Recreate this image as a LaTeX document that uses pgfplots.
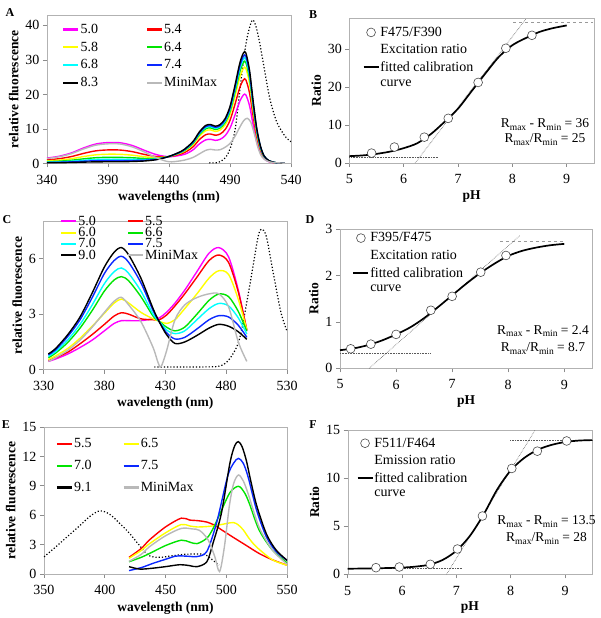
\documentclass[border=0pt]{standalone}
\usepackage{fontspec}
\setmainfont{Liberation Serif}
\usepackage{pgfplots}
\pgfplotsset{compat=1.18}

\definecolor{cMag}{HTML}{FF00FF}
\definecolor{cRed}{HTML}{FF0000}
\definecolor{cYel}{HTML}{FFFF00}
\definecolor{cGrn}{HTML}{00E400}
\definecolor{cCya}{HTML}{00FFFF}
\definecolor{cBlu}{HTML}{0A28FF}
\definecolor{cMM}{HTML}{B9B9B9}

\tikzset{rtext/.style={font=\fontsize{13.5}{13.5}\selectfont}}
\pgfplotsset{
  panel/.style={
    scale only axis, anchor=south west,
    axis line style={draw=black!30},
    every tick/.style={black!45, line width=0.6pt},
    tick align=outside, tick pos=left, major tick length=4pt,
    ticklabel style={font=\fontsize{14}{14}\selectfont},
    xticklabel style={yshift=-4pt},
    label style={font=\bfseries\fontsize{13.5}{14}\selectfont},
    /pgf/number format/assume math mode=true,
    legend style={draw=none, fill=none, font=\fontsize{14}{14}\selectfont,
      inner sep=0pt, nodes={inner sep=1pt}},
    legend cell align=left,
    legend image code/.code={\draw[##1] (0pt,0pt) -- (15pt,0pt);},
  },
  ratio/.style={panel, clip=false, xmin=5, xmax=9.5, xtick={5,6,7,8,9},
    xlabel={pH}, ylabel={Ratio}, legend style={row sep=4.5pt}},
  spec/.style={line width=1.4pt, smooth, forget plot},
  lg/.style={line width=2.2pt},
  ref/.style={black, dotted, line width=1.2pt, smooth, forget plot},
  fitc/.style={line width=1.7pt, black, smooth},
  pts/.style={only marks, mark=*, mark size=4.4pt,
    mark options={draw=black!70, fill=white, line width=0.6pt},
    legend image code/.code={\draw[mark repeat=2,mark phase=2,##1] plot coordinates {(0pt,0pt)(7.5pt,0pt)(15pt,0pt)};}},
  guide/.style={black!65, densely dotted, line width=0.6pt, forget plot},
  guidedash/.style={black!40, dashed, line width=0.6pt, forget plot},
}
\newcommand{\sub}[1]{\raisebox{-2.5pt}{\fontsize{9.5}{9.5}\selectfont #1}}

\begin{document}
\begin{tikzpicture}
\useasboundingbox (0,0) rectangle (600pt,618pt);

% ---------------- A ----------------
\begin{axis}[panel, at={(47pt,454.5pt)}, width=244pt, height=148.5pt,
  xmin=340, xmax=540, ymin=0, ymax=43,
  xtick={340,390,440,490,540}, ytick={0,10,20,30,40},
  xlabel={wavelengths (nm)}, ylabel={relative fluorescence},
  legend columns=2,
  legend style={at={(axis description cs:0.062,0.947)}, anchor=north west, row sep=5pt,
    /tikz/every even column/.append style={column sep=47pt}}]
\addlegendimage{lg, cMag}\addlegendentry{5.0}
\addlegendimage{lg, cRed}\addlegendentry{5.4}
\addlegendimage{lg, cYel}\addlegendentry{5.8}
\addlegendimage{lg, cGrn}\addlegendentry{6.4}
\addlegendimage{lg, cCya}\addlegendentry{6.8}
\addlegendimage{lg, cBlu}\addlegendentry{7.4}
\addlegendimage{lg, black}\addlegendentry{8.3}
\addlegendimage{lg, cMM}\addlegendentry{MiniMax}
\addplot[ref] coordinates {(473,0.2) (481,0.4) (488,2.6) (494,9.4) (499,24) (503.5,35.5) (508,41.4) (511,40) (514,35.5) (517,29.7) (522.5,19) (528,12.3) (533,9) (536.5,7.3) (540,6.3)};
\addplot[spec, cMag] coordinates {(340,1.56) (350,2.10) (360,3.06) (370,4.50) (380,5.64) (390,6.06) (400,6.00) (410,5.20) (420,3.79) (430,2.54) (440,1.96) (450,2.41) (455,2.98) (460,4.03) (465,5.70) (470,6.82) (474,7.01) (478,6.70) (482,7.01) (486,8.06) (490,10.23) (494,13.95) (498,17.98) (501,19.84) (503,19.84) (506,16.74) (509,11.16) (512,6.20) (515,3.10) (518,1.36) (522,0.50) (528,0.12) (535,0.06)};
\addplot[spec, cRed] coordinates {(340,1.04) (350,1.39) (360,2.01) (370,2.93) (380,3.66) (390,3.93) (400,3.89) (410,3.42) (420,2.61) (430,1.99) (440,1.97) (450,2.80) (455,3.63) (460,4.92) (465,6.96) (470,8.33) (474,8.55) (478,8.18) (482,8.55) (486,9.84) (490,12.49) (494,17.03) (498,21.95) (501,24.22) (503,24.22) (506,20.44) (509,13.63) (512,7.57) (515,3.79) (518,1.67) (522,0.61) (528,0.15) (535,0.08)};
\addplot[spec, cYel] coordinates {(340,0.74) (350,0.97) (360,1.39) (370,2.01) (380,2.51) (390,2.69) (400,2.66) (410,2.40) (420,1.94) (430,1.69) (440,2.03) (450,3.11) (455,4.13) (460,5.59) (465,7.91) (470,9.46) (474,9.72) (478,9.29) (482,9.72) (486,11.18) (490,14.19) (494,19.35) (498,24.94) (501,27.52) (503,27.52) (506,23.22) (509,15.48) (512,8.60) (515,4.30) (518,1.89) (522,0.69) (528,0.17) (535,0.09)};
\addplot[spec, cGrn] coordinates {(340,0.52) (350,0.67) (360,0.94) (370,1.35) (380,1.67) (390,1.79) (400,1.77) (410,1.66) (420,1.45) (430,1.45) (440,2.03) (450,3.27) (455,4.38) (460,5.93) (465,8.40) (470,10.04) (474,10.32) (478,9.86) (482,10.32) (486,11.87) (490,15.06) (494,20.54) (498,26.48) (501,29.22) (503,29.22) (506,24.65) (509,16.43) (512,9.13) (515,4.57) (518,2.01) (522,0.73) (528,0.18) (535,0.09)};
\addplot[spec, cCya] coordinates {(340,0.38) (350,0.48) (360,0.67) (370,0.94) (380,1.16) (390,1.24) (400,1.23) (410,1.21) (420,1.14) (430,1.32) (440,2.03) (450,3.36) (455,4.54) (460,6.14) (465,8.69) (470,10.40) (474,10.68) (478,10.21) (482,10.68) (486,12.29) (490,15.59) (494,21.26) (498,27.41) (501,30.24) (503,30.24) (506,25.52) (509,17.01) (512,9.45) (515,4.73) (518,2.08) (522,0.76) (528,0.19) (535,0.09)};
\addplot[spec, cBlu] coordinates {(340,0.29) (350,0.36) (360,0.48) (370,0.66) (380,0.80) (390,0.85) (400,0.84) (410,0.87) (420,0.93) (430,1.21) (440,2.03) (450,3.43) (455,4.66) (460,6.31) (465,8.92) (470,10.67) (474,10.96) (478,10.48) (482,10.96) (486,12.61) (490,16.01) (494,21.83) (498,28.13) (501,31.04) (503,31.04) (506,26.19) (509,17.46) (512,9.70) (515,4.85) (518,2.13) (522,0.78) (528,0.19) (535,0.10)};
\addplot[spec, black] coordinates {(340,0.20) (350,0.24) (360,0.30) (370,0.40) (380,0.47) (390,0.50) (400,0.50) (410,0.59) (420,0.73) (430,1.13) (440,2.05) (450,3.52) (455,4.80) (460,6.50) (465,9.20) (470,11.00) (474,11.30) (478,10.80) (482,11.30) (486,13.00) (490,16.50) (494,22.50) (498,29.00) (501,32.00) (503,32.00) (506,27.00) (509,18.00) (512,10.00) (515,5.00) (518,2.20) (522,0.80) (528,0.20) (535,0.10)};
\addplot[spec, cMM] coordinates {(340,1.43) (350,1.94) (360,2.85) (370,4.22) (380,5.30) (390,5.70) (400,5.64) (410,4.79) (420,3.31) (430,1.60) (440,0.50) (450,0.80) (455,1.20) (460,1.80) (465,2.80) (470,3.80) (474,4.10) (478,3.90) (482,4.00) (486,4.70) (490,5.80) (494,7.80) (498,10.50) (501,12.30) (504,13.10) (507,12.00) (510,8.50) (513,4.50) (516,2.00) (520,0.80) (525,0.30) (535,0.10)};
\end{axis}

% ---------------- B ----------------
\begin{axis}[ratio, at={(349.3pt,455pt)}, width=244.6pt, height=144.4pt,
  ymin=0, ymax=38, ytick={0,10,20,30},
  legend style={at={(axis description cs:0.054,0.95)}, anchor=north west}]
\addplot[guide] coordinates {(5,1.6) (6.62,1.6)};
\addplot[guidedash] coordinates {(8.02,37.1) (9.49,37.1)};
\addplot[guide] coordinates {(6.21,0) (8.25,37.9)};
\addplot[pts] coordinates {(5.41,2.6) (5.83,4.2) (6.38,6.8) (6.82,11.75) (7.37,21.2) (7.88,30.2) (8.36,33.6)};
\addlegendentry{F475/F390}
\addlegendimage{empty legend}
\addlegendentry{Excitation ratio}
\addplot[fitc] coordinates {(5.0,1.8) (5.25,2.0) (5.5,2.4) (5.75,3.0) (6.0,3.9) (6.25,5.2) (6.5,7.6) (6.75,10.8) (7.0,14.3) (7.25,18.9) (7.5,23.5) (7.75,27.9) (8.0,31.0) (8.25,32.9) (8.5,34.5) (8.75,35.5) (9.0,36.2)};
\addlegendentry{fitted calibration}
\addlegendimage{empty legend}
\addlegendentry{curve}
\node[rtext] at (axis cs:8.6,10.1) {R\sub{max} - R\sub{min} = 36};
\node[rtext] at (axis cs:8.6,6.1) {R\sub{max}/R\sub{min} = 25};
\end{axis}

% ---------------- C ----------------
\begin{axis}[panel, at={(43.5pt,248.3pt)}, width=243.5pt, height=148pt,
  xmin=330, xmax=530, ymin=0, ymax=8,
  xtick={330,380,430,480,530}, ytick={0,3,6},
  xlabel={wavelength (nm)}, ylabel={relative fluorescence},
  legend columns=2,
  legend style={at={(axis description cs:0.068,1.047)}, anchor=north west, row sep=-1.5pt,
    /tikz/every even column/.append style={column sep=30pt}}]
\addlegendimage{lg, cMag}\addlegendentry{5.0}
\addlegendimage{lg, cRed}\addlegendentry{5.5}
\addlegendimage{lg, cYel}\addlegendentry{6.0}
\addlegendimage{lg, cGrn}\addlegendentry{6.6}
\addlegendimage{lg, cCya}\addlegendentry{7.0}
\addlegendimage{lg, cBlu}\addlegendentry{7.5}
\addlegendimage{lg, black}\addlegendentry{9.0}
\addlegendimage{lg, cMM}\addlegendentry{MiniMax}
\addplot[ref] coordinates {(421,0.15) (440,0.15) (460,0.15) (475,0.2) (483,0.6) (491,1.66) (499,4.4) (506,7.1) (509,7.6) (513,7.2) (518.5,5.3) (525,3.1) (530,2.1)};
\addplot[spec, cMag] coordinates {(334,0.45) (340,0.58) (350,0.85) (360,1.2) (370,1.6) (380,2.1) (388,2.5) (394,2.65) (400,2.65) (410,2.65) (420,2.75) (425,2.8) (431,3.1) (438,3.6) (446,4.3) (456,5.3) (466,6.3) (474,6.6) (482,6.1) (490,4.3) (497,2.1)};
\addplot[spec, cRed] coordinates {(334,0.5) (340,0.65) (350,0.95) (360,1.4) (370,1.9) (380,2.45) (388,2.9) (394,3.08) (400,3.0) (410,2.75) (420,2.7) (425,2.7) (431,2.95) (438,3.45) (446,4.1) (456,5.0) (466,5.9) (474,6.2) (482,5.8) (490,4.2) (497,2.15)};
\addplot[spec, cYel] coordinates {(334,0.55) (340,0.75) (350,1.15) (360,1.7) (370,2.35) (380,3.05) (388,3.6) (394,3.82) (400,3.6) (410,3.1) (420,2.75) (425,2.62) (431,2.5) (438,2.7) (446,3.3) (456,4.1) (466,4.95) (474,5.35) (482,5.15) (490,3.8) (497,2.15)};
\addplot[spec, cGrn] coordinates {(334,0.65) (340,0.9) (350,1.48) (360,2.25) (370,3.2) (380,4.25) (388,4.85) (394,5.03) (400,4.8) (410,3.95) (420,2.9) (425,2.62) (431,2.3) (438,2.1) (446,2.3) (456,3.0) (466,3.75) (474,4.09) (482,3.95) (490,3.15) (497,2.08)};
\addplot[spec, cCya] coordinates {(334,0.72) (340,0.98) (350,1.62) (360,2.45) (370,3.5) (380,4.65) (388,5.3) (394,5.5) (400,5.2) (410,4.25) (420,3.0) (425,2.62) (431,2.15) (438,1.95) (446,2.1) (456,2.7) (466,3.3) (474,3.58) (482,3.45) (490,2.8) (497,1.93)};
\addplot[spec, cBlu] coordinates {(334,0.8) (340,1.08) (350,1.8) (360,2.7) (370,3.9) (380,5.2) (388,5.9) (394,6.13) (400,5.8) (410,4.7) (420,3.2) (425,2.6) (431,2.0) (438,1.66) (446,1.75) (456,2.2) (466,2.7) (474,2.92) (482,2.85) (490,2.4) (497,1.75)};
\addplot[spec, black] coordinates {(334,0.85) (340,1.15) (350,1.9) (360,2.85) (370,4.15) (380,5.55) (388,6.35) (394,6.6) (400,6.2) (410,4.95) (420,3.3) (425,2.6) (431,1.9) (438,1.42) (446,1.5) (456,1.85) (466,2.25) (474,2.45) (482,2.35) (490,2.05) (497,1.64)};
\addplot[spec, cMM] coordinates {(334,0.45) (340,0.65) (350,1.05) (360,1.6) (370,2.3) (380,3.1) (388,3.7) (394,3.91) (400,3.5) (410,2.6) (420,1.2) (424,0.4) (426.5,0.16) (431,1.0) (438,2.7) (446,3.5) (456,3.9) (466,4.1) (474,4.1) (482,3.4) (490,1.5) (497,0.45)};
\end{axis}

% ---------------- D ----------------
\begin{axis}[ratio, at={(340pt,249.7pt)}, width=252.3pt, height=139.3pt,
  ymin=0, ymax=3, ytick={0,1,2,3},
  legend style={at={(axis description cs:0.049,0.982)}, anchor=north west}]
\addplot[guide] coordinates {(5,0.33) (6.6,0.33)};
\addplot[guidedash] coordinates {(7.85,2.74) (9.0,2.74)};
\addplot[guide] coordinates {(5.52,0) (8.21,2.86)};
\addplot[pts] coordinates {(5.19,0.42) (5.55,0.52) (6.0,0.73) (6.62,1.25) (7.0,1.55) (7.51,2.07) (7.96,2.43)};
\addlegendentry{F395/F475}
\addlegendimage{empty legend}
\addlegendentry{Excitation ratio}
\addplot[fitc] coordinates {(5.0,0.39) (5.25,0.43) (5.5,0.5) (5.75,0.6) (6.0,0.73) (6.25,0.88) (6.5,1.08) (6.75,1.32) (7.0,1.57) (7.25,1.82) (7.5,2.05) (7.75,2.25) (8.0,2.42) (8.25,2.53) (8.5,2.6) (8.75,2.65) (9.0,2.68)};
\addlegendentry{fitted calibration}
\addlegendimage{empty legend}
\addlegendentry{curve}
\node[rtext] at (axis cs:8.62,0.80) {R\sub{max} - R\sub{min} = 2.4};
\node[rtext] at (axis cs:8.62,0.43) {R\sub{max}/R\sub{min} = 8.7};
\end{axis}

% ---------------- E ----------------
\begin{axis}[panel, at={(44pt,44pt)}, width=243pt, height=147pt,
  xmin=350, xmax=550, ymin=0, ymax=15,
  xtick={350,400,450,500,550}, ytick={0,3,6,9,12,15},
  xlabel={wavelength (nm)}, ylabel={relative fluorescence},
  legend columns=2,
  legend style={at={(axis description cs:0.048,0.93)}, anchor=north west, row sep=9pt,
    /tikz/every even column/.append style={column sep=30pt}}]
\addlegendimage{lg, cRed}\addlegendentry{5.5}
\addlegendimage{lg, cYel}\addlegendentry{6.5}
\addlegendimage{lg, cGrn}\addlegendentry{7.0}
\addlegendimage{lg, cBlu}\addlegendentry{7.5}
\addlegendimage{lg, black}\addlegendentry{9.1}
\addlegendimage{lg, cMM}\addlegendentry{MiniMax}
\addplot[ref] coordinates {(350,1.75) (360,2.8) (370,3.9) (380,5.0) (388,5.9) (396,6.45) (404,6.1) (412,5.2) (420,4.2) (428,3.0) (436,1.9) (445,1.7) (455,1.85) (465,2.0) (475,2.05) (483,1.95) (490,1.3) (494,0.9)};
\addplot[spec, cRed] coordinates {(420,1.7) (430,2.6) (437,3.5) (450,4.8) (463,5.7) (470,5.5) (476,5.45) (484,5.3) (490,5.0) (495,4.6) (505,3.8) (516,2.95) (527,2.1) (538,1.45) (550,0.9)};
\addplot[spec, cYel] coordinates {(420,1.6) (430,2.4) (437,3.1) (450,4.2) (463,5.05) (470,4.9) (476,4.8) (485,4.85) (494,5.0) (500,5.15) (506,5.25) (510,5.0) (514,4.5) (519,3.6) (525,2.75) (538,1.45) (550,0.9)};
\addplot[spec, cGrn] coordinates {(420,1.25) (430,1.7) (437,2.1) (450,2.9) (463,3.45) (470,3.25) (476,3.1) (484,3.65) (489,4.6) (495,6.2) (503,8.3) (510,8.95) (515,8.3) (519,7.2) (527,4.5) (538,2.45) (550,1.15)};
\addplot[spec, cBlu] coordinates {(420,0.35) (430,0.65) (440,1.1) (450,1.5) (458,1.82) (462,1.85) (470,1.8) (476,1.78) (484,2.3) (492,5.2) (501,9.9) (506,11.3) (510,11.8) (514,11.3) (518,9.9) (525,6.5) (533,3.8) (541,2.3) (550,1.4)};
\addplot[spec, black] coordinates {(420,0.75) (429,0.5) (440,0.6) (450,0.75) (462,0.95) (470,0.85) (476,0.75) (484,1.25) (489,3.1) (496,6.2) (503,11.3) (507,13.1) (510,13.5) (513,13.0) (516.5,11.6) (520,9.6) (525,7.0) (533,4.1) (541,2.45) (550,1.4)};
\addplot[spec, cMM] coordinates {(420,1.3) (430,2.0) (437,2.8) (450,3.9) (463,4.65) (472,4.6) (478,4.45) (485,3.5) (490.5,1.8) (494.5,0.25) (498.5,2.8) (502.5,6.9) (506,9.2) (510,10.1) (514,9.5) (518,8.2) (527,4.8) (538,2.45) (550,1.0)};
\end{axis}

% ---------------- F ----------------
\begin{axis}[ratio, at={(347.7pt,43.7pt)}, width=244.5pt, height=144.3pt,
  ymin=0, ymax=15, ytick={0,5,10,15},
  legend style={at={(axis description cs:0.036,0.954)}, anchor=north west}]
\addplot[guide] coordinates {(5,0.62) (7.11,0.62)};
\addplot[guide] coordinates {(7.99,13.96) (9.5,13.96)};
\addplot[guide] coordinates {(6.82,0) (8.45,15)};
\addplot[pts] coordinates {(5.52,0.69) (5.95,0.76) (6.52,1.04) (7.02,2.63) (7.48,6.06) (8.02,11.0) (8.49,12.8) (9.03,13.86)};
\addlegendentry{F511/F464}
\addlegendimage{empty legend}
\addlegendentry{Emission ratio}
\addplot[fitc] coordinates {(5.0,0.58) (5.5,0.62) (6.0,0.7) (6.25,0.8) (6.5,1.0) (6.75,1.5) (7.0,2.45) (7.25,4.0) (7.5,6.2) (7.75,8.8) (8.0,10.8) (8.25,12.1) (8.5,12.95) (8.75,13.45) (9.0,13.75) (9.25,13.9) (9.5,13.95)};
\addlegendentry{fitted calibration}
\addlegendimage{empty legend}
\addlegendentry{curve}
\node[rtext] at (axis cs:8.66,5.47) {R\sub{max} - R\sub{min} = 13.5};
\node[rtext] at (axis cs:8.66,3.74) {R\sub{max}/R\sub{min} = 28};
\end{axis}

\begin{scope}[every node/.style={font=\bfseries\fontsize{12}{12}\selectfont}]
\node at (10pt,605pt) {A};
\node at (313pt,603pt) {B};
\node at (7pt,398pt) {C};
\node at (310pt,398pt) {D};
\node at (6pt,193pt) {E};
\node at (313pt,193pt) {F};
\end{scope}
\end{tikzpicture}
\end{document}
